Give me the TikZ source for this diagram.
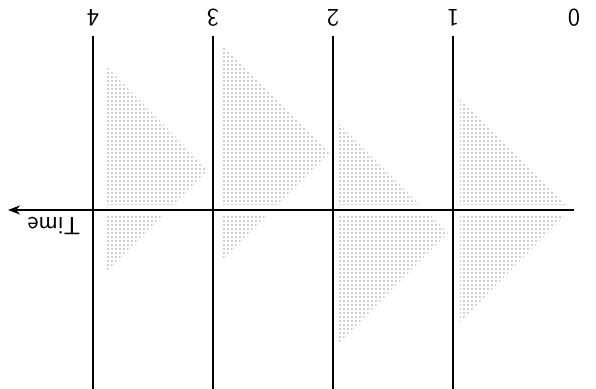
\documentclass[tikz,border=0pt]{standalone}
\usepackage{tikz}
\usetikzlibrary{arrows.meta, positioning, patterns.meta}

\begin{document}
\begin{tikzpicture}[x=0.5pt,y=-0.5pt,
  tick/.style={font=\sffamily\fontsize{12.5}{14}\selectfont,rotate=180,inner sep=0pt},
  cone/.style={pattern={Dots[radius=0.36pt,distance=2pt]},pattern color=black!80},
  tline/.style={line width=1.1pt}]
\useasboundingbox (0,0) rectangle (596,389);
% spreading cones
\fill[cone] (460,98) -- (571,209) -- (460,322) -- cycle;
\fill[cone] (337,122) -- (448,233) -- (337,345) -- cycle;
\fill[cone] (222,44) -- (329,153) -- (222,260) -- cycle;
\fill[cone] (105,65) -- (208,170) -- (105,273) -- cycle;
\fill[white] (0,205) rectangle (596,214);
% time lines
\coordinate (topA) at (453,36);  \coordinate (botA) at (453,389);
\coordinate (topB) at (333,36);  \coordinate (botB) at (333,389);
\coordinate (topC) at (213,36);  \coordinate (botC) at (213,389);
\coordinate (topD) at (93,36);   \coordinate (botD) at (93,389);
\draw[tline] (topA) -- (botA);
\draw[tline] (topB) -- (botB);
\draw[tline] (topC) -- (botC);
\draw[tline] (topD) -- (botD);
% axis
\coordinate (origin) at (574,210);
\coordinate (tip) at (8,210);
\draw[tline,-{Stealth[length=6pt,width=4.5pt]}] (origin) -- (tip);
\node[tick] (lab0) at (574,18) {0};
\node[tick] (lab1) at (453,18) {1};
\node[tick] (lab2) at (333,18) {2};
\node[tick] (lab3) at (213,18) {3};
\node[tick] (lab4) at (93,18) {4};
\node[tick] (timelab) at (54,226) {Time};
\end{tikzpicture}
\end{document}
